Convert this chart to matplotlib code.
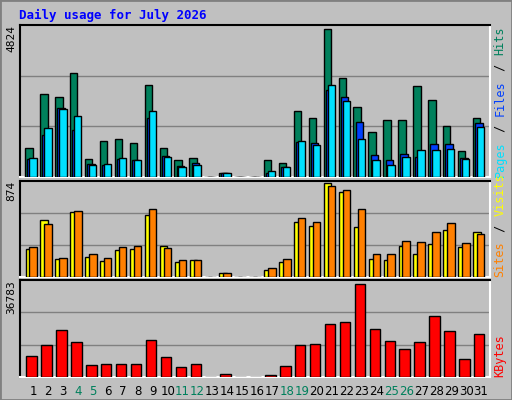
import matplotlib
matplotlib.use("Agg")
import matplotlib.pyplot as plt
import numpy as np

days = list(range(1, 32))
weekend = [4, 5, 11, 12, 18, 19, 25, 26]

hits = [932, 2650, 2555, 3318, 583, 1156, 1219, 1092, 2937, 933, 551, 615, 0, 138, 0, 0,
        551, 456, 2110, 1887, 4686, 3159, 2237, 1442, 1824, 1824, 2905, 2460, 1633, 838, 1887]
files = [583, 1347, 2205, 1484, 424, 371, 583, 551, 1887, 678, 360, 456, 0, 138, 0, 0,
         138, 329, 1124, 1092, 2778, 2555, 1760, 710, 551, 742, 647, 1060, 1060, 615, 1728]
pages = [615, 1570, 2173, 1951, 392, 424, 615, 551, 2110, 647, 329, 392, 0, 138, 0, 0,
         201, 329, 1156, 1028, 2937, 2428, 1219, 551, 392, 647, 869, 869, 901, 583, 1601]
sites = [256, 532, 171, 608, 190, 152, 247, 256, 579, 285, 143, 161, 0, 38, 0, 0,
         66, 143, 513, 475, 874, 789, 465, 171, 161, 285, 209, 304, 437, 276, 418]
visits = [276, 494, 180, 617, 209, 180, 276, 285, 627, 266, 161, 161, 0, 38, 0, 0,
          85, 171, 551, 513, 845, 807, 627, 209, 209, 332, 323, 418, 503, 313, 399]
kbytes = [8189, 12619, 18660, 13827, 4564, 4967, 4967, 4967, 14633, 7786, 3759, 4967, 0, 1342, 0, 0,
          940, 4162, 12619, 13022, 21077, 21883, 36783, 19063, 14230, 11008, 13827, 23896, 18258, 6981, 17049]

W, H = 512, 400
fig = plt.figure(figsize=(W / 100, H / 100), dpi=100, facecolor="#C0C0C0")
mono = "DejaVu Sans Mono"

# outer bevel
fig.add_artist(plt.Rectangle((0, 0), 1, 1, transform=fig.transFigure, fill=False,
                             edgecolor="#808080", linewidth=2))
fig.text(19 / W, 1 - 15 / H, "Daily usage for July 2026", color="#0000FF", fontsize=9,
         fontweight="bold", family=mono, va="center")


def make_ax(top, bottom):
  ax = fig.add_axes([20 / W, 1 - bottom / H, 470 / W, (bottom - top) / H])
  ax.set_facecolor("#C0C0C0")
  ax.set_xlim(0.1, 31.6)
  for s in ax.spines.values():
    s.set_color("white")
    s.set_linewidth(1.5)
  ax.spines["left"].set_color("black")
  ax.spines["top"].set_color("black")
  ax.set_xticks([])
  ax.set_yticks([])
  return ax


def max_label(ax, txt):
  ax.text(-9 / 470, 1.0, txt, transform=ax.transAxes, rotation=90, ha="center", va="top",
          fontsize=8, family=mono)


d = np.array(days)
kw = dict(edgecolor="black", linewidth=1, align="edge", zorder=3)

ax1 = make_ax(25, 177)
top1 = max(hits)
ax1.set_ylim(0, top1 * 1.03)
for g in (1 / 3, 2 / 3):
  ax1.axhline(top1 * 1.03 * g, color="#808080", linewidth=1, zorder=1)
ax1.bar(d - 0.55, hits, width=0.5, color="#00805C", **kw)
ax1.bar(d - 0.40, files, width=0.5, color="#0040FF", **kw)
ax1.bar(d - 0.28, pages, width=0.5, color="#00E0FF", **kw)
max_label(ax1, "4824")

ax2 = make_ax(181, 277)
top2 = max(sites)
ax2.set_ylim(0, top2 * 1.02)
for g in (1 / 3, 2 / 3):
  ax2.axhline(top2 * 1.02 * g, color="#808080", linewidth=1, zorder=1)
ax2.bar(d - 0.53, sites, width=0.5, color="#FFFF00", **kw)
ax2.bar(d - 0.27, visits, width=0.5, color="#FF8000", **kw)
max_label(ax2, "874")

ax3 = make_ax(280, 377)
top3 = max(kbytes)
ax3.set_ylim(0, top3 * 1.04)
for g in (1 / 3, 2 / 3):
  ax3.axhline(top3 * 1.04 * g, color="#808080", linewidth=1, zorder=1)
ax3.bar(d - 0.47, kbytes, width=0.7, color="#FF0000", **kw)
max_label(ax3, "36783")

for day in days:
  ax3.text(day, -0.08, str(day), transform=ax3.get_xaxis_transform(), ha="center", va="top",
           fontsize=8.5, color="#00805C" if day in weekend else "black")

# right-side legends (rotated text read bottom to top)
def side_label(ax, parts):
  x = 1 + 10 / 470
  y = 0.0
  for txt, col in parts:
    ax.text(x, y, txt, transform=ax.transAxes, rotation=90, ha="center", va="bottom",
            fontsize=8.5, color=col, family=mono)
    y += len(txt) * 7.6 / (ax.get_position().height * H)

side_label(ax1, [("Pages", "#00E0FF"), (" / ", "black"), ("Files", "#0040FF"),
                 (" / ", "black"), ("Hits", "#00805C")])
side_label(ax2, [("Sites", "#FF8000"), (" / ", "black"), ("Visits", "#FFFF00")])
side_label(ax3, [("KBytes", "#FF0000")])

fig.savefig("out.png", dpi=100, facecolor=fig.get_facecolor())
